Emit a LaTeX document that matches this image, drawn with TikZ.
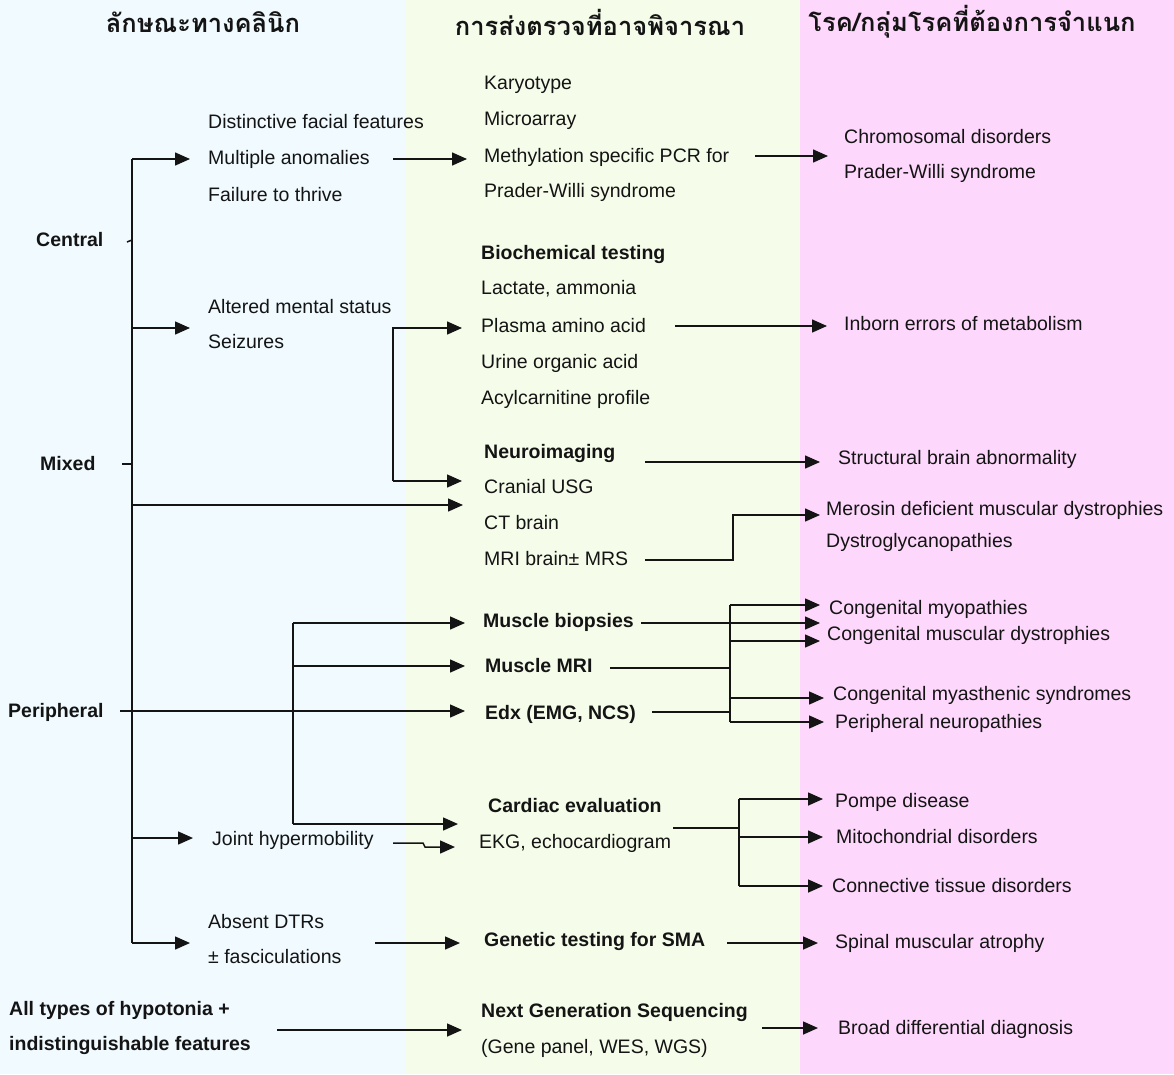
\documentclass[tikz,border=0pt]{standalone}
\usepackage{fontspec}
\setmainfont{Liberation Sans}
\newfontfamily\thaifont[Script=Thai]{Loma}
\usetikzlibrary{arrows.meta,calc}
\definecolor{bgA}{RGB}{240,250,255}
\definecolor{bgB}{RGB}{245,253,234}
\definecolor{bgC}{RGB}{254,216,252}
\definecolor{ink}{RGB}{20,20,20}
\begin{document}
\begin{tikzpicture}[x=1pt,y=-1pt,
  txt/.style={anchor=west,inner sep=0pt,text height=12pt,text depth=0pt,text=ink,font=\fontsize{19.5}{22}\selectfont},
  btxt/.style={txt,font=\fontsize{19.5}{22}\selectfont\bfseries},
  head/.style={inner sep=0pt,text=ink,font=\fontsize{25.5}{30}\selectfont\thaifont\bfseries},
  conn/.style={line width=1.5pt,draw=ink},
  thick conn/.style={line width=2.6pt,draw=ink},
  arr/.style={conn,-{Triangle[length=15pt,width=13pt]}},
]
\useasboundingbox (0,0) rectangle (1174,1074);
\fill[bgA] (0,0) rectangle (405,1074);
\fill[bgB] (405,0) rectangle (800,1074);
\fill[bgC] (800,0) rectangle (1174,1074);

% headers
\node[head] (h1) at (203,22) {ลักษณะทางคลินิก};
\node[head] (h2) at (600,22) {การส่งตรวจที่อาจพิจารณา};
\node[head] (h3) at (972,22) {โรค/กลุ่มโรคที่ต้องการจำแนก};

% column 1
\node[btxt] (central) at (36,240) {Central};
\node[btxt] (mixed) at (40,464) {Mixed};
\node[btxt] (periph) at (8,711) {Peripheral};
\node[btxt] (all1) at (9,1009) {All types of hypotonia +};
\node[btxt] (all2) at (9,1044) {indistinguishable features};

\node[txt] (dff) at (208,122) {Distinctive facial features};
\node[txt] (ma) at (208,158) {Multiple anomalies};
\node[txt] (ftt) at (208,195) {Failure to thrive};
\node[txt] (ams) at (208,307) {Altered mental status};
\node[txt] (seiz) at (208,342) {Seizures};
\node[txt] (joint) at (212,839) {Joint hypermobility};
\node[txt] (dtr) at (208,922) {Absent DTRs};
\node[txt] (fasc) at (208,957) {± fasciculations};

% column 2
\node[txt] (karyo) at (484,83) {Karyotype};
\node[txt] (micro) at (484,119) {Microarray};
\node[txt] (meth) at (484,156) {Methylation specific PCR for};
\node[txt] (pws) at (484,191) {Prader-Willi syndrome};
\node[btxt] (bio) at (481,253) {Biochemical testing};
\node[txt] (lact) at (481,288) {Lactate, ammonia};
\node[txt] (plasma) at (481,326) {Plasma amino acid};
\node[txt] (urine) at (481,362) {Urine organic acid};
\node[txt] (acyl) at (481,398) {Acylcarnitine profile};
\node[btxt] (neuro) at (484,452) {Neuroimaging};
\node[txt] (usg) at (484,487) {Cranial USG};
\node[txt] (ct) at (484,523) {CT brain};
\node[txt] (mri) at (484,559) {MRI brain± MRS};
\node[btxt] (mb) at (483,621) {Muscle biopsies};
\node[btxt] (mmri) at (485,666) {Muscle MRI};
\node[btxt] (edx) at (485,713) {Edx (EMG, NCS)};
\node[btxt] (card) at (488,806) {Cardiac evaluation};
\node[txt] (ekg) at (479,842) {EKG, echocardiogram};
\node[btxt] (sma) at (484,940) {Genetic testing for SMA};
\node[btxt] (ngs) at (481,1011) {Next Generation Sequencing};
\node[txt] (ngs2) at (481,1047) {(Gene panel, WES, WGS)};

% column 3
\node[txt] (chrom) at (844,137) {Chromosomal disorders};
\node[txt] (pws2) at (844,172) {Prader-Willi syndrome};
\node[txt] (iem) at (844,324) {Inborn errors of metabolism};
\node[txt] (sba) at (838,458) {Structural brain abnormality};
\node[txt] (mero) at (826,509) {Merosin deficient muscular dystrophies};
\node[txt] (dystro) at (826,541) {Dystroglycanopathies};
\node[txt] (cmyo) at (829,608) {Congenital myopathies};
\node[txt] (cmd) at (827,634) {Congenital muscular dystrophies};
\node[txt] (cms) at (833,694) {Congenital myasthenic syndromes};
\node[txt] (pn) at (835,722) {Peripheral neuropathies};
\node[txt] (pompe) at (835,801) {Pompe disease};
\node[txt] (mito) at (836,837) {Mitochondrial disorders};
\node[txt] (ctd) at (832,886) {Connective tissue disorders};
\node[txt] (spa) at (835,942) {Spinal muscular atrophy};
\node[txt] (bdd) at (838,1028) {Broad differential diagnosis};

% spine coordinates
\coordinate (spT) at (132,159);
\coordinate (spB) at (132,943);
\coordinate (pj) at (293,711);

% main spine and ticks
\draw[conn] (spT) -- (spB);
\draw[conn] (127,242) -- (central.east -| spT);
\draw[conn] (122,464) -- (mixed.east -| spT);
\draw[thick conn] (120,711) -- (pj);

% branches from spine
\draw[arr] (spT) -- (190,159);
\draw[arr] (132,328) -- (190,328);
\draw[arr] (132,505) -- (463,505);
\draw[arr] (132,838) -- (193,838);
\draw[arr] (spB) -- (190,943);

% central
\draw[arr] (393,159) -- (467,159);
\draw[arr] (755,156) -- (828,156);

% metabolic / neuro
\draw[arr] (393,481) -- (393,328) -- (462,328);
\draw[arr] (393,481) -- (462,481);
\draw[arr] (675,326) -- (827,326);
\draw[arr] (645,462) -- (820,462);
\draw[arr] (645,560) -- (733,560) -- (733,515) -- (820,515);

% peripheral branch
\draw[conn] (293,623) -- (293,824);
\draw[arr] (293,623) -- (465,623);
\draw[arr] (293,666) -- (465,666);
\draw[arr] (pj) -- (465,711);
\draw[arr] (293,824) -- (458,824);
\draw[arr] (393,843) -- (423,843) -- (425,847) -- (455,847);

% muscle group
\draw[conn] (730,605) -- (730,722);
\draw[arr] (730,605) -- (820,605);
\draw[arr] (641,623) -- (820,623);
\draw[arr] (730,641) -- (820,641);
\draw[conn] (610,668) -- (730,668);
\draw[arr] (730,698) -- (824,698);
\draw[conn] (652,712) -- (730,712);
\draw[arr] (730,722) -- (824,722);

% cardiac
\draw[conn] (673,828) -- (739,828);
\draw[conn] (739,799) -- (739,886);
\draw[arr] (739,799) -- (823,799);
\draw[arr] (739,837) -- (823,837);
\draw[arr] (739,886) -- (823,886);

% SMA and NGS
\draw[arr] (375,943) -- (460,943);
\draw[arr] (727,943) -- (818,943);
\draw[arr] (277,1030) -- (462,1030);
\draw[arr] (762,1028) -- (818,1028);
\end{tikzpicture}
\end{document}
